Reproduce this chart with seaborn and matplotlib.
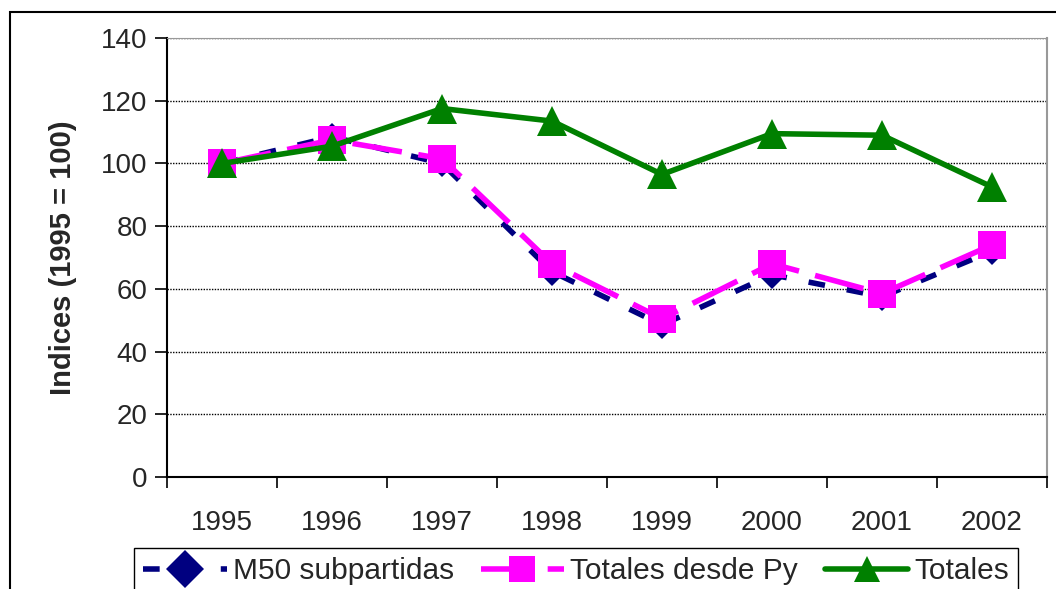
import pandas as pd
import matplotlib.pyplot as plt
import seaborn as sns
from matplotlib.patches import Rectangle

years = ["1995", "1996", "1997", "1998", "1999", "2000", "2001", "2002"]
m50 = [100, 108.5, 100, 65.5, 48.5, 64.5, 57.5, 72]
desde_py = [100, 107.5, 101.5, 68, 50.5, 68, 58.5, 74]
totales = [100, 105.5, 117.5, 113.5, 96.5, 109.5, 109, 92.5]

series_names = ["M50 subpartidas", "Totales desde Py", "Totales"]

df = pd.concat([
    pd.DataFrame({"pos": range(len(years)), "year": years, "value": m50, "serie": series_names[0]}),
    pd.DataFrame({"pos": range(len(years)), "year": years, "value": desde_py, "serie": series_names[1]}),
    pd.DataFrame({"pos": range(len(years)), "year": years, "value": totales, "serie": series_names[2]}),
])

sns.set_style("white")
plt.rcParams["font.family"] = ["Liberation Sans", "DejaVu Sans"]

fig = plt.figure(figsize=(10.56, 5.89), dpi=100)
ax = fig.add_axes([167 / 1056, 1 - 477 / 589, (1047 - 167) / 1056, (477 - 38) / 589])

palette = {series_names[0]: "#000080", series_names[1]: "#FF00FF", series_names[2]: "#008000"}
markers = {series_names[0]: "D", series_names[1]: "s", series_names[2]: "^"}
dashes = {series_names[0]: (3, 4), series_names[1]: (9, 3), series_names[2]: ""}

sns.lineplot(
    data=df, x="pos", y="value", hue="serie", style="serie",
    palette=palette, markers=markers, dashes=dashes,
    linewidth=4, markersize=19, markeredgewidth=0,
    ax=ax, legend="brief",
)
# marker sizes differ slightly per series
for line, ms in zip(ax.lines[:3], [14, 20, 21]):
    line.set_markersize(ms)
for z, line in enumerate(ax.lines[:3]):
    line.set_zorder(3 + z)

ax.set_xlim(-0.5, len(years) - 0.5)
ax.set_ylim(0, 140)
ax.set_yticks(range(0, 141, 20))
ax.set_xticks([i - 0.5 for i in range(len(years) + 1)])
ax.set_xticklabels([])
ax.set_xticks(range(len(years)), minor=True)
ax.set_xticklabels(years, minor=True)
ax.tick_params(axis="x", which="major", direction="out", length=8, width=1.2, color="black", bottom=True)
ax.tick_params(axis="x", which="minor", length=0, labelsize=20, pad=24)
ax.tick_params(axis="y", direction="out", length=9, width=1.2, color="black", left=True, labelsize=20, pad=5)

ax.yaxis.grid(True, linestyle=(0, (1, 1)), color="black", linewidth=1)
ax.xaxis.grid(False)
ax.set_axisbelow(True)

for side in ["left", "bottom"]:
    ax.spines[side].set_color("black")
    ax.spines[side].set_linewidth(1.5)
ax.spines["top"].set_color("#999999")
ax.spines["top"].set_linestyle((0, (1, 1)))
ax.spines["right"].set_color("#999999")
ax.spines["right"].set_linewidth(1.5)

ax.set_xlabel("")
ax.set_ylabel("Indices (1995 = 100)", fontsize=21, fontweight="bold", labelpad=17)

handles, labels = ax.get_legend_handles_labels()
ax.get_legend().remove()
fig.legend(
    handles=handles[-3:], labels=labels[-3:],
    loc="upper left", bbox_to_anchor=(134 / 1056, 1 - 548 / 589),
    ncol=3, frameon=True, fancybox=False, edgecolor="black",
    fontsize=21.5, handlelength=2.8, handletextpad=0.2, columnspacing=0.9,
    borderaxespad=0, borderpad=0.3, framealpha=1,
)

fig.patches.append(Rectangle((10 / 1056, -0.1), 1.2, 1.1 - 12 / 589, transform=fig.transFigure,
                             fill=False, edgecolor="black", linewidth=1.5, zorder=-1))

fig.savefig("out.png", dpi=100)
